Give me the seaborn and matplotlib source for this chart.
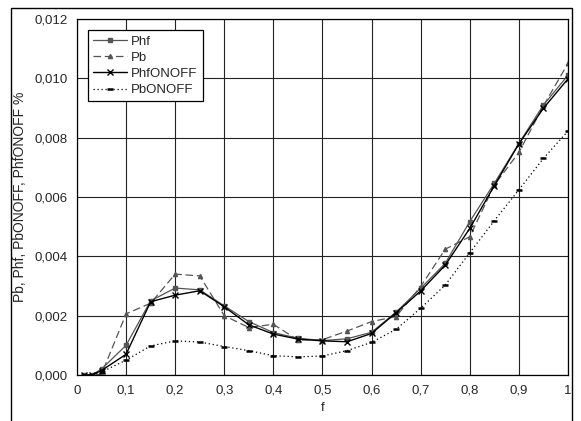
import numpy as np
import pandas as pd
import seaborn as sns
import matplotlib.pyplot as plt
from matplotlib.ticker import FuncFormatter, MultipleLocator
from matplotlib.patches import Rectangle

# data (values in %)
f = [0.015, 0.03, 0.05, 0.1, 0.15, 0.2, 0.25, 0.3, 0.35, 0.4, 0.45, 0.5,
     0.55, 0.6, 0.65, 0.7, 0.75, 0.8, 0.85, 0.9, 0.95, 1.0]
phf = [0.0, 0.0, 0.0002, 0.0010, 0.0025, 0.00293, 0.00287, 0.00233, 0.0018, 0.00143, 0.00124, 0.00116,
       0.00122, 0.00144, 0.00212, 0.00292, 0.00376, 0.00517, 0.00646, 0.0078, 0.0091, 0.0101]
pb = [0.0, 0.0, 0.00003, 0.00206, 0.00242, 0.0034, 0.00334, 0.0020, 0.0016, 0.00171, 0.00118, 0.00119,
      0.00148, 0.0018, 0.00197, 0.00298, 0.00424, 0.00466, 0.0064, 0.0075, 0.00907, 0.0105]
phf_onoff = [0.0, 0.0, 0.00015, 0.0007, 0.00247, 0.00269, 0.00284, 0.0023, 0.00169, 0.00138, 0.00121, 0.00115,
             0.00112, 0.0014, 0.0021, 0.00283, 0.0037, 0.00494, 0.00638, 0.00779, 0.00899, 0.00998]
pb_onoff = [0.0, 0.0, 0.0001, 0.0005, 0.00098, 0.00115, 0.00111, 0.00096, 0.00082, 0.00065, 0.00061, 0.00064,
            0.00082, 0.0011, 0.00154, 0.00225, 0.00303, 0.00412, 0.0052, 0.00624, 0.0073, 0.00822]

df = pd.DataFrame({'f': f, 'Phf': phf, 'Pb': pb, 'PhfONOFF': phf_onoff, 'PbONOFF': pb_onoff})

sns.set_theme(style='white')
plt.rcParams['font.family'] = ['Liberation Sans', 'DejaVu Sans']

fig = plt.figure(figsize=(5.81, 4.21), dpi=100)
ax = fig.add_axes([0.1325, 0.1093, 0.845, 0.8456])

# outer frame around the whole chart
fig.patches.append(Rectangle((11 / 581, -0.05), 561 / 581, 1.05 - 8 / 421, transform=fig.transFigure,
                             fill=False, edgecolor='black', linewidth=1.0))

styles = {
    'Phf': dict(color='#555555', linestyle='-', marker='s', markersize=2.5, linewidth=0.9),
    'Pb': dict(color='#555555', linestyle=(0, (6, 3)), marker='^', markersize=3, linewidth=0.9),
    'PhfONOFF': dict(color='black', linestyle='-', marker='x', markersize=5, linewidth=1.0),
    'PbONOFF': dict(color='black', linestyle=(0, (1, 2.2)), marker='_', markersize=5, linewidth=0.9),
}
for name, st in styles.items():
    mew = 1.8 if st['marker'] == '_' else 1.0
    sns.lineplot(x='f', y=name, data=df, ax=ax, label=name,
                 markeredgecolor=st['color'], markerfacecolor=st['color'], markeredgewidth=mew, **st)

ax.set_xlim(0, 1)
ax.set_ylim(0, 0.012)
ax.xaxis.set_major_locator(MultipleLocator(0.1))
ax.yaxis.set_major_locator(MultipleLocator(0.002))
ax.xaxis.set_major_formatter(FuncFormatter(lambda v, p: ('%g' % round(v, 1)).replace('.', ',')))
ax.yaxis.set_major_formatter(FuncFormatter(lambda v, p: ('%.3f' % v).replace('.', ',')))
ax.grid(True, color='#222222', linewidth=0.8)
for s in ax.spines.values():
    s.set_color('black')
    s.set_linewidth(0.9)
ax.tick_params(direction='out', length=4, width=0.8, color='black', labelsize=9.5, pad=3)
ax.set_xlabel('f', fontsize=9.5, labelpad=4)
ax.set_ylabel('Pb, Phf, PbONOFF, PhfONOFF %', fontsize=10, labelpad=5)

leg = ax.legend(loc='upper left', bbox_to_anchor=(0.022, 0.969), borderaxespad=0, fontsize=9.5,
                fancybox=False, edgecolor='black', framealpha=1, handlelength=2.6,
                labelspacing=0.3, borderpad=0.4, handletextpad=0.3)
leg.get_frame().set_linewidth(0.9)

fig.savefig('out.png', dpi=100)
